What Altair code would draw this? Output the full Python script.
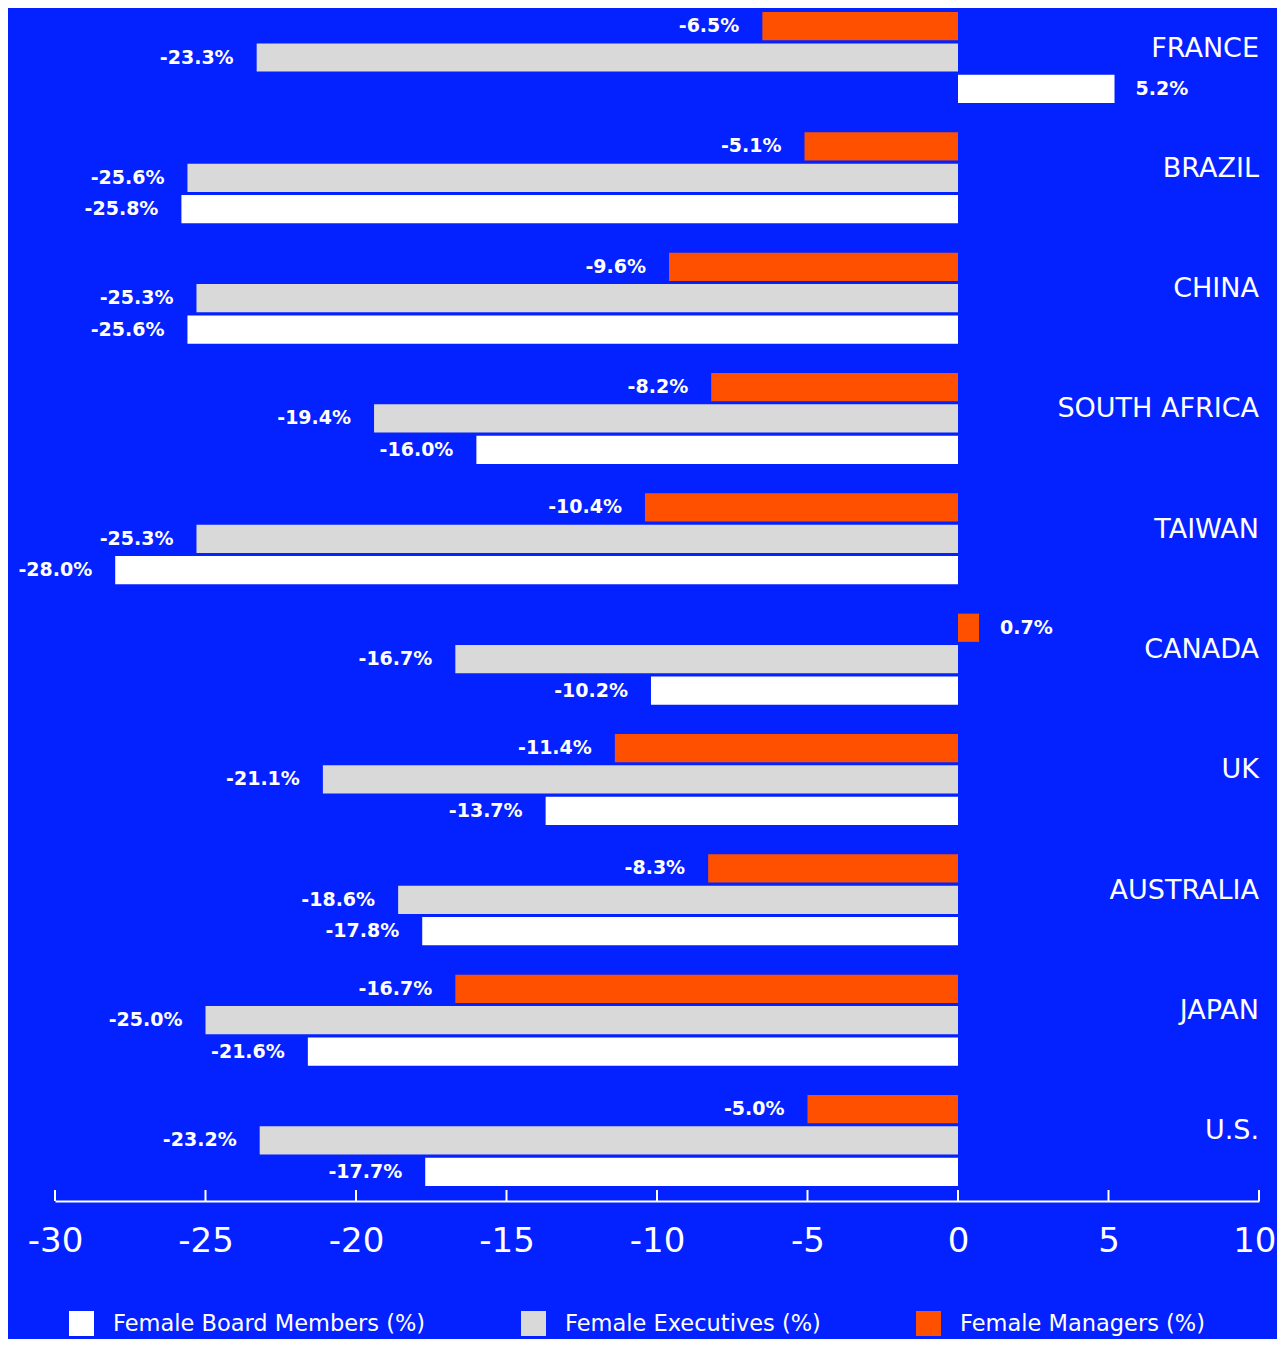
import altair as alt
import pandas as pd

countries = ["FRANCE", "BRAZIL", "CHINA", "SOUTH AFRICA", "TAIWAN", "CANADA", "UK", "AUSTRALIA", "JAPAN", "U.S."]
managers = [-6.5, -5.1, -9.6, -8.2, -10.4, 0.7, -11.4, -8.3, -16.7, -5.0]
executives = [-23.3, -25.6, -25.3, -19.4, -25.3, -16.7, -21.1, -18.6, -25.0, -23.2]
board = [5.2, -25.8, -25.6, -16.0, -28.0, -10.2, -13.7, -17.8, -21.6, -17.7]
series_names = ["Female Board Members (%)", "Female Executives (%)", "Female Managers (%)"]
series_colors = ["#FFFFFF", "#D9D9D9", "#FF5000"]
tick_values = [-30, -25, -20, -15, -10, -5, 0, 5, 10]

BG = "#0421FF"
FONT = "DejaVu Sans"

rows = []
for i, c in enumerate(countries):
    for name, vals in zip(series_names, [board, executives, managers]):
        v = vals[i]
        rows.append({"country": c, "series": name, "value": v, "label": f"{v:.1f}%"})
df = pd.DataFrame(rows)
cdf = pd.DataFrame({"country": countries})
tdf = pd.DataFrame({"tick": tick_values})

W, H = 1204, 1193

xscale = alt.Scale(domain=[-30, 10], nice=False, zero=False)
yscale = alt.Scale(domain=countries, paddingInner=0.2436, paddingOuter=0.079, align=0.21)
offscale = alt.Scale(domain=["Female Managers (%)", "Female Executives (%)", "Female Board Members (%)"],
                     paddingInner=0.1, paddingOuter=0)

base = alt.Chart(df)

bars = base.mark_bar().encode(
    x=alt.X("value:Q", scale=xscale,
            axis=alt.Axis(values=tick_values, title=None, grid=False, ticks=False,
                          domainColor="white", domainWidth=2,
                          labelColor="white", labelFontSize=34, labelFont=FONT,
                          labelFlush=False, labelOverlap=False, labelPadding=23,
                          labelAlign={"condition": {"test": "datum.value == 10", "value": "right"}, "value": "center"},
                          labelOffset={"condition": {"test": "datum.value == 10", "value": 17}, "value": 0},
                          labelExpr="datum.value < 0 ? '-' + abs(datum.value) : '' + datum.value")),
    x2=alt.datum(0),
    y=alt.Y("country:N", scale=yscale, axis=None),
    yOffset=alt.YOffset("series:N", scale=offscale),
    color=alt.Color("series:N",
                    scale=alt.Scale(domain=series_names, range=series_colors),
                    legend=alt.Legend(title=None, orient="none", legendX=14, legendY=1303,
                                      direction="horizontal", symbolType="square",
                                      symbolSize=625, symbolStrokeWidth=0,
                                      labelColor="white", labelFontSize=22.5, labelFont=FONT,
                                      labelLimit=0, labelOffset=19, columnPadding=95, padding=0)),
)

txt_neg = base.transform_filter("datum.value < 0").mark_text(
    align="right", baseline="middle", dx=-23, fontSize=19, fontWeight="bold",
    font=FONT, color="white"
).encode(
    x=alt.X("value:Q", scale=xscale),
    y=alt.Y("country:N", scale=yscale),
    yOffset=alt.YOffset("series:N", scale=offscale),
    text="label:N",
)

txt_pos = base.transform_filter("datum.value >= 0").mark_text(
    align="left", baseline="middle", dx=21, fontSize=19, fontWeight="bold",
    font=FONT, color="white"
).encode(
    x=alt.X("value:Q", scale=xscale),
    y=alt.Y("country:N", scale=yscale),
    yOffset=alt.YOffset("series:N", scale=offscale),
    text="label:N",
)

country_txt = alt.Chart(cdf).mark_text(
    align="right", baseline="middle", dy=-9, fontSize=27, font=FONT, color="white"
).encode(
    x=alt.datum(10, scale=xscale),
    y=alt.Y("country:N", scale=yscale),
    text="country:N",
)

ticks = alt.Chart(tdf).mark_rule(color="white", strokeWidth=2).encode(
    x=alt.X("tick:Q", scale=xscale),
    y=alt.value(H - 11),
    y2=alt.value(H),
)

chart = alt.layer(bars, txt_neg, txt_pos, country_txt, ticks).properties(
    width=W, height=H,
    autosize=alt.AutoSizeParams(type="none"),
    padding={"left": 47, "top": 0, "right": 18, "bottom": 138},
    background=BG,
).configure_view(stroke=None)

chart.save("out.html", embed_options={"renderer": "svg", "actions": False})
